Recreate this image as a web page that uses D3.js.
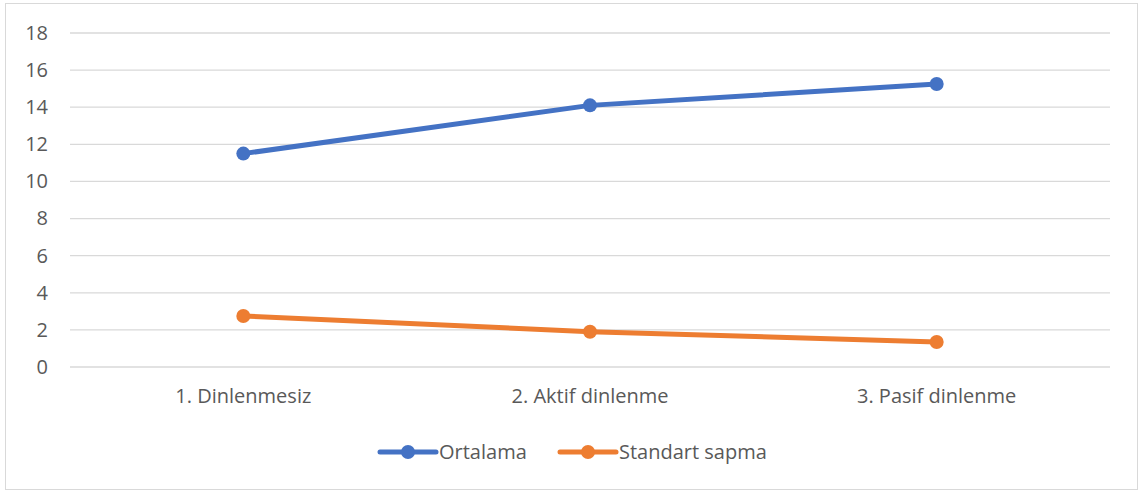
<!DOCTYPE html>
<html>
<head>
<meta charset="utf-8">
<script src="https://cdn.jsdelivr.net/npm/d3@7"></script>
<style>
  body { margin: 0; background: #fff; }
  text { font-family: "Open Sans", "Liberation Sans", sans-serif; fill: #595959; }
</style>
</head>
<body>
<div id="chart"></div>
<script>
const width = 1140, height = 492;

// data
const categories = ["1. Dinlenmesiz", "2. Aktif dinlenme", "3. Pasif dinlenme"];
const ortalama = [11.5, 14.1, 15.25];
const standartSapma = [2.75, 1.9, 1.35];
const yTicks = [0, 2, 4, 6, 8, 10, 12, 14, 16, 18];

const series = [
  { name: "Ortalama", values: ortalama, color: "#4472C4" },
  { name: "Standart sapma", values: standartSapma, color: "#ED7D31" }
];

const svg = d3.select("#chart").append("svg")
    .attr("width", width)
    .attr("height", height);

// chart border
svg.append("rect")
    .attr("x", 5.5).attr("y", 3.5)
    .attr("width", 1132).attr("height", 486)
    .attr("fill", "#fff")
    .attr("stroke", "#D9D9D9");

const x = d3.scaleBand().domain(categories).range([70, 1110]);
const y = d3.scaleLinear().domain([0, 18]).range([367, 33]);

// gridlines
svg.append("g")
  .selectAll("line")
  .data(yTicks)
  .enter().append("line")
    .attr("x1", 70).attr("x2", 1110)
    .attr("y1", d => y(d)).attr("y2", d => y(d))
    .attr("stroke", "#D9D9D9")
    .attr("stroke-width", 1.3);

// y axis labels
const yAxis = svg.append("g")
    .attr("transform", "translate(48,0)")
    .call(d3.axisLeft(y).tickValues(yTicks).tickSize(0).tickPadding(0));
yAxis.select(".domain").remove();
yAxis.selectAll("text")
    .style("font-size", "20px")
    .attr("fill", "#595959");

// x axis labels
const xAxis = svg.append("g")
    .attr("transform", "translate(0,389)")
    .call(d3.axisBottom(x).tickSize(0).tickPadding(0));
xAxis.select(".domain").remove();
xAxis.selectAll("text")
    .style("font-size", "20px")
    .attr("fill", "#595959");

const line = d3.line()
    .x((d, i) => x(categories[i]) + x.bandwidth() / 2)
    .y(d => y(d));

series.forEach(s => {
  svg.append("path")
      .datum(s.values)
      .attr("d", line)
      .attr("fill", "none")
      .attr("stroke", s.color)
      .attr("stroke-width", 5)
      .attr("stroke-linecap", "round");
  svg.append("g")
    .selectAll("circle")
    .data(s.values)
    .enter().append("circle")
      .attr("cx", (d, i) => x(categories[i]) + x.bandwidth() / 2)
      .attr("cy", d => y(d))
      .attr("r", 7)
      .attr("fill", s.color);
});

// legend
const legendX = [380, 560];
const legend = svg.append("g");
series.forEach((s, i) => {
  const g = legend.append("g").attr("transform", `translate(${legendX[i]},452)`);
  g.append("line")
      .attr("x1", 0).attr("x2", 56)
      .attr("stroke", s.color)
      .attr("stroke-width", 5)
      .attr("stroke-linecap", "round");
  g.append("circle").attr("cx", 28).attr("r", 7).attr("fill", s.color);
  g.append("text")
      .attr("x", 59).attr("dy", "0.35em")
      .style("font-size", "20px")
      .text(s.name);
});
</script>
</body>
</html>
